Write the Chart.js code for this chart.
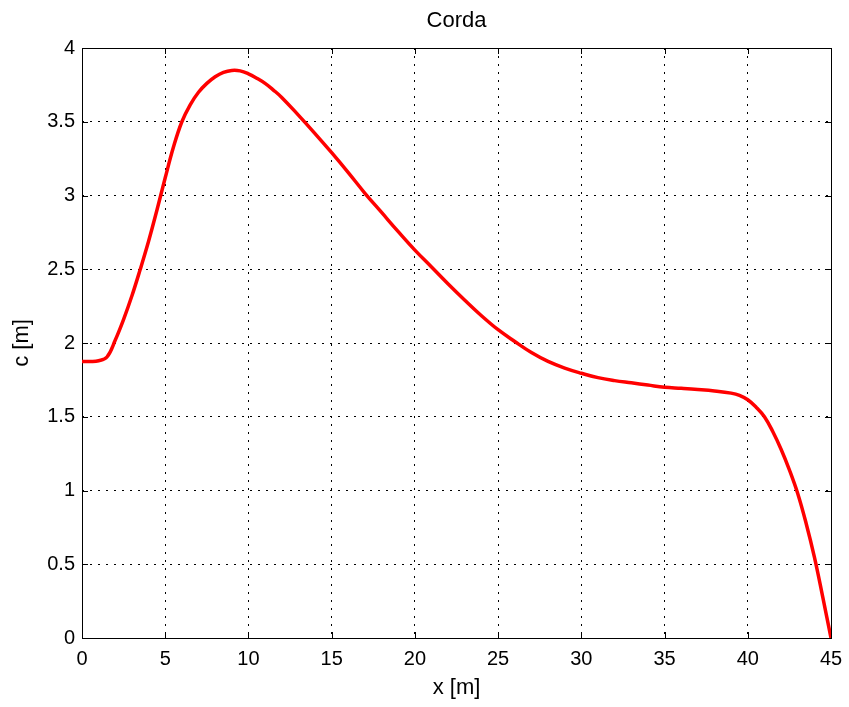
<!DOCTYPE html>
<html>
<head>
<meta charset="utf-8">
<title>Corda</title>
<script src="https://cdn.jsdelivr.net/npm/chart.js@4/dist/chart.umd.min.js"></script>
<style>
  body { margin: 0; background: #fff; }
  canvas { display: block; }
</style>
</head>
<body>
<canvas id="myChart" width="849" height="707"></canvas>
<script>
// chord distribution
const xPos = [0, 0.5, 1, 1.5, 2, 2.5, 3, 3.5, 4, 4.5, 5, 5.5, 6, 6.5, 7, 7.5, 8, 8.5, 9, 9.5,
  10, 10.5, 11, 11.5, 12, 13, 14, 15, 16, 17, 18, 19, 20, 21, 22, 23, 24, 25, 26, 27, 28, 29,
  30, 31, 32, 33, 34, 35, 36, 37, 38, 39, 39.5, 40, 40.5, 41, 41.5, 42, 42.5, 43, 43.5, 44, 44.5, 45];
const chord = [1.875, 1.875, 1.88, 1.905, 2.02, 2.16, 2.32, 2.5, 2.69, 2.9, 3.12, 3.33, 3.5, 3.615, 3.7, 3.76, 3.805, 3.835, 3.848, 3.845,
  3.825, 3.795, 3.76, 3.715, 3.665, 3.545, 3.42, 3.29, 3.155, 3.015, 2.885, 2.755, 2.63, 2.515, 2.4, 2.29, 2.185, 2.09, 2.01, 1.935, 1.875, 1.83,
  1.795, 1.765, 1.745, 1.73, 1.715, 1.7, 1.693, 1.685, 1.675, 1.66, 1.645, 1.615, 1.565, 1.5, 1.4, 1.28, 1.14, 0.98, 0.78, 0.55, 0.28, 0];

const titleText = "Corda";
const xLabel = "x [m]";
const yLabel = "c [m]";

const points = xPos.map((x, i) => ({ x: x, y: chord[i] }));

// matlab style box with inward ticks
const boxPlugin = {
  id: "box",
  beforeDatasetsDraw(chart) {
    const ctx = chart.ctx;
    const a = chart.chartArea;
    const xs = chart.scales.x;
    const ys = chart.scales.y;
    ctx.save();
    ctx.strokeStyle = "#000";
    ctx.lineWidth = 1;
    ctx.setLineDash([]);
    ctx.strokeRect(a.left + 0.5, a.top + 0.5, a.right - a.left, a.bottom - a.top);
    const len = 6;
    ctx.beginPath();
    xs.ticks.forEach(t => {
      const px = Math.round(xs.getPixelForValue(t.value)) + 0.5;
      ctx.moveTo(px, a.bottom); ctx.lineTo(px, a.bottom - len);
      ctx.moveTo(px, a.top); ctx.lineTo(px, a.top + len);
    });
    ys.ticks.forEach(t => {
      const py = Math.round(ys.getPixelForValue(t.value)) + 0.5;
      ctx.moveTo(a.left, py); ctx.lineTo(a.left + len, py);
      ctx.moveTo(a.right, py); ctx.lineTo(a.right - len, py);
    });
    ctx.stroke();
    ctx.restore();
  }
};

Chart.defaults.font.family = "'Liberation Sans', Arial, Helvetica, sans-serif";
Chart.defaults.color = "#000";

new Chart(document.getElementById("myChart"), {
  type: "scatter",
  data: {
    datasets: [{
      data: points,
      showLine: true,
      borderColor: "#ff0000",
      borderWidth: 3.5,
      pointRadius: 0,
      tension: 0.4,
      fill: false
    }]
  },
  plugins: [boxPlugin],
  options: {
    responsive: false,
    animation: false,
    layout: { padding: { left: 0, right: 18, top: 0, bottom: 0 } },
    plugins: {
      legend: { display: false },
      tooltip: { enabled: false },
      title: {
        display: true,
        text: titleText,
        fullSize: false,
        color: "#000",
        font: { size: 22, weight: "normal" },
        padding: { top: 8, bottom: 13.6 }
      }
    },
    scales: {
      x: {
        type: "linear",
        min: 0,
        max: 45,
        afterFit(scale) {
          scale.height = 69;
          scale.paddingLeft = 0;
          scale.paddingRight = 0;
        },
        ticks: { stepSize: 5, padding: 9, font: { size: 20 }, color: "#000" },
        grid: { color: "#000", lineWidth: 1, drawTicks: false },
        border: { display: false, dash: [2, 6] },
        title: {
          display: true,
          text: xLabel,
          color: "#000",
          font: { size: 22 },
          padding: { top: 0, bottom: 6 }
        }
      },
      y: {
        type: "linear",
        min: 0,
        max: 4,
        afterFit(scale) { scale.width = 82; },
        ticks: {
          stepSize: 0.5,
          padding: 7,
          font: { size: 20 },
          color: "#000",
          callback: v => String(v)
        },
        grid: { color: "#000", lineWidth: 1, drawTicks: false },
        border: { display: false, dash: [2, 6] },
        title: {
          display: true,
          text: yLabel,
          color: "#000",
          font: { size: 22 },
          padding: { top: 9, bottom: 0 }
        }
      }
    }
  }
});
</script>
</body>
</html>
